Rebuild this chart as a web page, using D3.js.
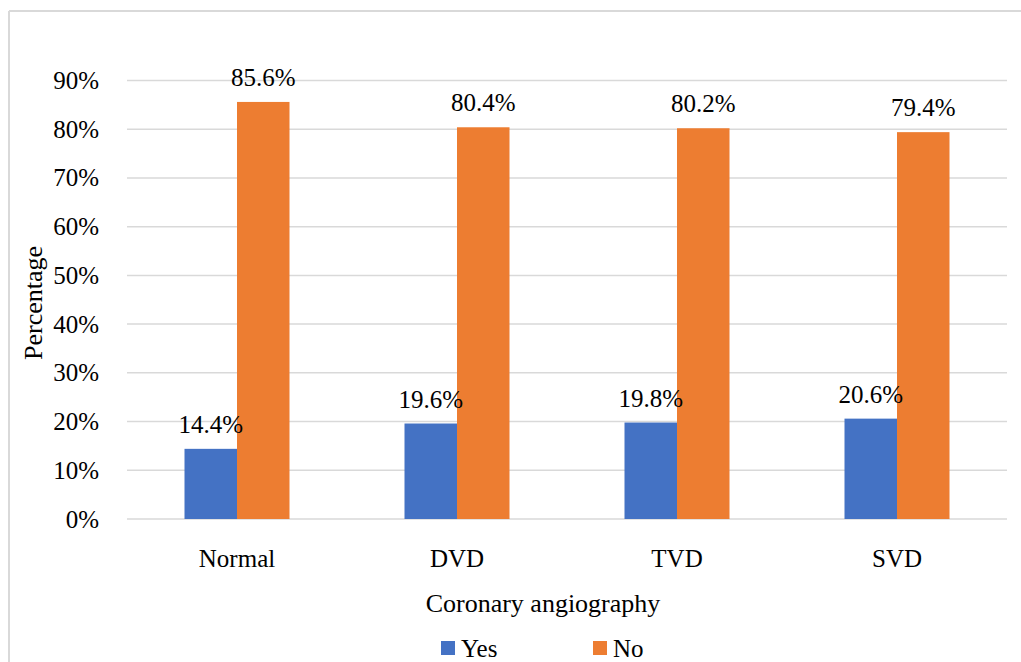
<!DOCTYPE html>
<html>
<head>
<meta charset="utf-8">
<script src="https://cdn.jsdelivr.net/npm/d3@7"></script>
<style>
  html, body { margin: 0; padding: 0; background: #fff; }
  svg, svg text { font-family: 'Liberation Serif', 'Times New Roman', serif !important; }
  svg { display: block; }
</style>
</head>
<body>
<svg id="chart" width="1021" height="662"></svg>
<script>
// Coronary angiography groups and the share of each answer
const categories = ["Normal", "DVD", "TVD", "SVD"];
const seriesNames = ["Yes", "No"];
const yesValues = [14.4, 19.6, 19.8, 20.6];
const noValues = [85.6, 80.4, 80.2, 79.4];
const yTicks = [0, 10, 20, 30, 40, 50, 60, 70, 80, 90];
const colors = ["#4472c4", "#ed7d31"];

const SERIF = "'Liberation Serif', 'Times New Roman', serif";
const svg = d3.select("#chart");
const W = 1021, H = 662;

// Outer chart frame (left and top edges visible)
svg.append("line").attr("x1", 9).attr("x2", 9).attr("y1", 11).attr("y2", H)
  .attr("stroke", "#d9d9d9").attr("stroke-width", 2);
svg.append("line").attr("x1", 9).attr("x2", W).attr("y1", 11).attr("y2", 11)
  .attr("stroke", "#d9d9d9").attr("stroke-width", 2);

const plot = { left: 127, right: 1007, top: 80.5, bottom: 519 };

const x = d3.scaleBand().domain(categories).range([plot.left, plot.right]).paddingInner(0).paddingOuter(0);
const y = d3.scaleLinear().domain([0, 90]).range([plot.bottom, plot.top]);

// Horizontal gridlines
svg.append("g").selectAll("line").data(yTicks).join("line")
  .attr("x1", plot.left).attr("x2", plot.right)
  .attr("y1", d => y(d)).attr("y2", d => y(d))
  .attr("stroke", "#d9d9d9").attr("stroke-width", 1.5);

// Y axis tick labels
const yAxis = d3.axisLeft(y).tickValues(yTicks).tickFormat(d => d + "%").tickSize(0).tickPadding(28);
const gy = svg.append("g").attr("transform", `translate(${plot.left},0)`).call(yAxis)
  .attr("font-family", null).attr("font-size", null);
gy.select(".domain").remove();
gy.selectAll("text").style("font-family", SERIF)
  .attr("font-size", 25).attr("fill", "#000");

// X axis category labels
const xAxis = d3.axisBottom(x).tickSize(0).tickPadding(30);
const gx = svg.append("g").attr("transform", `translate(0,${plot.bottom})`).call(xAxis)
  .attr("font-family", null).attr("font-size", null);
gx.select(".domain").remove();
gx.selectAll("text").style("font-family", SERIF)
  .attr("font-size", 25).attr("fill", "#000");

// Bars: two series side by side inside each category
const barW = 52.5;
const sub = d3.scaleBand().domain(seriesNames).range([0, barW * 2]);
const rows = categories.map((c, i) => ({ cat: c, vals: [yesValues[i], noValues[i]] }));

const groups = svg.append("g").selectAll("g").data(rows).join("g")
  .attr("transform", d => `translate(${x(d.cat) + x.bandwidth() / 2 - barW},0)`);

groups.selectAll("rect").data(d => d.vals.map((v, j) => ({ v, s: seriesNames[j], j })))
  .join("rect")
  .attr("x", d => sub(d.s))
  .attr("width", sub.bandwidth())
  .attr("y", d => y(d.v))
  .attr("height", d => y(0) - y(d.v))
  .attr("fill", d => colors[d.j]);

groups.selectAll("text").data(d => d.vals.map((v, j) => ({ v, s: seriesNames[j], j })))
  .join("text")
  .attr("x", d => sub(d.s) + sub.bandwidth() / 2)
  .attr("y", d => y(d.v) - 16)
  .attr("text-anchor", "middle")
  .style("font-family", SERIF)
  .attr("font-size", 25)
  .attr("fill", "#000")
  .text(d => d.v.toFixed(1) + "%");

// Axis titles
svg.append("text")
  .attr("x", (plot.left + plot.right) / 2 - 24).attr("y", 612)
  .attr("text-anchor", "middle").style("font-family", SERIF).attr("font-size", 26).attr("fill", "#000")
  .text("Coronary angiography");

svg.append("text")
  .attr("transform", `translate(42,${303}) rotate(-90)`)
  .attr("text-anchor", "middle").style("font-family", SERIF).attr("font-size", 26).attr("fill", "#000")
  .text("Percentage");

// Legend
const legend = svg.append("g");
const legendX = [441, 593];
seriesNames.forEach((name, i) => {
  legend.append("rect").attr("x", legendX[i]).attr("y", 641).attr("width", 14).attr("height", 14)
    .attr("fill", colors[i]);
  legend.append("text").attr("x", legendX[i] + 20).attr("y", 657)
    .style("font-family", SERIF).attr("font-size", 25).attr("fill", "#000").text(name);
});
</script>
</body>
</html>
